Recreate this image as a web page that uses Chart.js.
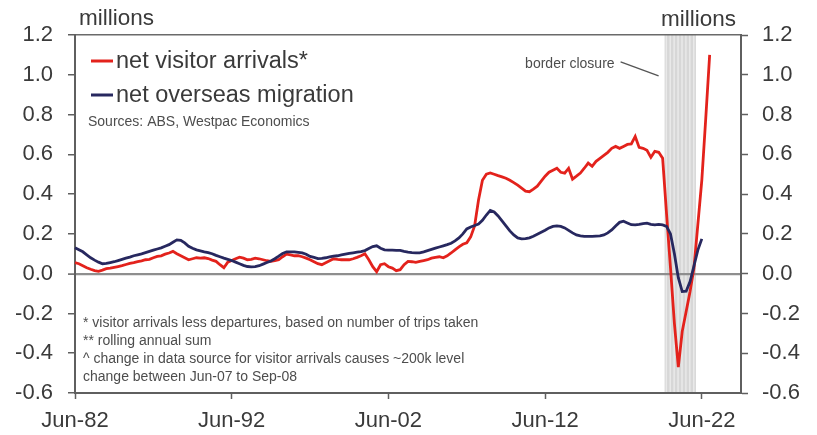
<!DOCTYPE html>
<html>
<head>
<meta charset="utf-8">
<script src="https://cdn.jsdelivr.net/npm/chart.js@4"></script>
<style>
  html, body { margin: 0; padding: 0; background: #ffffff; }
  #wrap { width: 817px; height: 435px; position: relative; }
</style>
</head>
<body>
<div id="wrap"><canvas id="chart" width="817" height="435"></canvas></div>
<script>
// Quarterly categories, Jun-82 through Dec-24
const quarterNames = ['Mar', 'Jun', 'Sep', 'Dec'];
const quarters = [];
for (let y = 1982, q = 1; quarters.length < 171; ) {
  quarters.push(quarterNames[q] + '-' + String(y % 100).padStart(2, '0'));
  q++;
  if (q === 4) { q = 0; y++; }
}

// Labelled x-axis ticks
const xTickLabels = ['Jun-82', 'Jun-92', 'Jun-02', 'Jun-12', 'Jun-22'];

// Period shaded as the border closure
const borderClosure = ['Mar-20', 'Dec-21'];

// Net visitor arrivals*, rolling annual sum (millions), from Jun-82
const visitorArrivals = [
  0.055, 0.05, 0.04, 0.03, 0.022, 0.015, 0.012, 0.018, 0.025, 0.028,
  0.032, 0.036, 0.04, 0.046, 0.052, 0.055, 0.06, 0.064, 0.07, 0.072,
  0.08, 0.087, 0.09, 0.098, 0.104, 0.112, 0.1, 0.09, 0.08, 0.07,
  0.075, 0.08, 0.078, 0.08, 0.076, 0.068, 0.062, 0.045, 0.03, 0.058,
  0.066, 0.075, 0.083, 0.078, 0.07, 0.072, 0.078, 0.075, 0.07, 0.065,
  0.062, 0.066, 0.07, 0.085, 0.098, 0.095, 0.09, 0.09, 0.085, 0.078,
  0.07, 0.06, 0.05, 0.045, 0.055, 0.065, 0.075, 0.072, 0.07, 0.07,
  0.07, 0.075, 0.082, 0.09, 0.1, 0.07, 0.035, 0.01, 0.045, 0.05,
  0.035, 0.028, 0.015, 0.02, 0.045, 0.062, 0.06, 0.057, 0.062, 0.066,
  0.07, 0.078, 0.082, 0.085, 0.08, 0.09, 0.104, 0.12, 0.135, 0.148,
  0.155, 0.185, 0.24, 0.37, 0.47, 0.5, 0.506, 0.5, 0.493, 0.487,
  0.48, 0.47, 0.458, 0.445, 0.43, 0.415, 0.412, 0.425, 0.44, 0.465,
  0.49, 0.51, 0.52, 0.53, 0.51, 0.505, 0.53, 0.475, 0.49, 0.506,
  0.53, 0.556, 0.54, 0.565, 0.58, 0.595, 0.61, 0.63, 0.64, 0.63,
  0.64, 0.65, 0.652, 0.69, 0.635, 0.63, 0.62, 0.585, 0.615, 0.61,
  0.58, 0.3, 0.03, -0.25, -0.47, -0.29, -0.19, -0.09, 0.03, 0.25,
  0.47, 0.78, 1.10
];

// Net overseas migration (millions), from Jun-82
const overseasMigration = [
  0.13, 0.12, 0.11, 0.095, 0.08, 0.068, 0.058, 0.05, 0.052, 0.056,
  0.06, 0.066, 0.072, 0.078, 0.083, 0.09, 0.095, 0.1, 0.106, 0.112,
  0.118, 0.124, 0.13, 0.138, 0.146, 0.158, 0.17, 0.168, 0.155, 0.138,
  0.128, 0.12, 0.115, 0.11, 0.106, 0.1, 0.092, 0.085, 0.078, 0.072,
  0.066, 0.058, 0.05, 0.042, 0.036, 0.034, 0.035, 0.04, 0.048, 0.056,
  0.064, 0.075, 0.088, 0.102, 0.11, 0.11, 0.11, 0.107, 0.104, 0.098,
  0.087, 0.082, 0.076, 0.077, 0.08, 0.084, 0.088, 0.09, 0.094, 0.098,
  0.102, 0.105, 0.108, 0.111, 0.116, 0.126, 0.136, 0.14, 0.128, 0.12,
  0.118, 0.118, 0.117, 0.117, 0.112, 0.108, 0.106, 0.105, 0.105, 0.11,
  0.116, 0.122, 0.128, 0.134, 0.14, 0.146, 0.153, 0.165, 0.18, 0.2,
  0.225, 0.235, 0.242, 0.25, 0.268, 0.295, 0.318, 0.31, 0.29, 0.265,
  0.24, 0.215, 0.195, 0.18, 0.175, 0.176, 0.18, 0.188, 0.198, 0.208,
  0.218, 0.23, 0.238, 0.24, 0.238, 0.23, 0.218, 0.205, 0.195, 0.19,
  0.187, 0.187, 0.188, 0.189, 0.19, 0.195, 0.205, 0.22, 0.24, 0.258,
  0.264, 0.255, 0.246, 0.245, 0.248, 0.252, 0.254, 0.248, 0.245, 0.248,
  0.245, 0.238, 0.2, 0.1, -0.02, -0.09, -0.088, -0.04, 0.04, 0.12,
  0.175
];

// Footnotes under the lines
const footnotes = [
  '* visitor arrivals less departures, based on number of trips taken',
  '** rolling annual sum',
  '^ change in data source for visitor arrivals causes ~200k level',
  'change between Jun-07 to Sep-08'
];

const RED = '#e3221c';
const NAVY = '#27285f';
const AXIS = '#5f5f5f';
const TEXT = '#3a3a3a';
const SMALL = '#4d4d4d';
const FONT = '"Liberation Sans", Arial, sans-serif';

// Grey striped band behind the lines for the border closure
const closureBand = {
  id: 'closureBand',
  beforeDraw(chart) {
    const x = chart.scales.x, a = chart.chartArea, ctx = chart.ctx;
    const i0 = quarters.indexOf(borderClosure[0]);
    const i1 = quarters.indexOf(borderClosure[1]);
    const left = x.getPixelForValue(i0 - 0.5);
    const right = x.getPixelForValue(i1 + 0.5);
    ctx.save();
    ctx.fillStyle = '#d7d7d7';
    ctx.fillRect(left, a.top, right - left, a.bottom - a.top);
    ctx.fillStyle = '#e9e9e9';
    for (let i = i0; i <= i1; i++) {
      const c = x.getPixelForValue(i);
      ctx.fillRect(c - 1, a.top, 1.5, a.bottom - a.top);
    }
    ctx.restore();
  }
};

// Unit captions, legend, source, annotation and footnotes
const chartText = {
  id: 'chartText',
  afterDraw(chart) {
    const ctx = chart.ctx, a = chart.chartArea, x = chart.scales.x, y = chart.scales.y;
    ctx.save();
    ctx.textBaseline = 'middle';
    ctx.fillStyle = TEXT;
    ctx.font = '22.5px ' + FONT;
    ctx.textAlign = 'left';
    ctx.fillText('millions', a.left + 4, 19);
    ctx.textAlign = 'right';
    ctx.fillText('millions', a.right - 5, 20);

    // legend
    const rows = [
      { ds: chart.data.datasets[1], y: 61 },
      { ds: chart.data.datasets[0], y: 95 }
    ];
    ctx.textAlign = 'left';
    ctx.font = '23.5px ' + FONT;
    rows.forEach(r => {
      ctx.strokeStyle = r.ds.borderColor;
      ctx.lineWidth = 3;
      ctx.beginPath();
      ctx.moveTo(a.left + 16, r.y);
      ctx.lineTo(a.left + 38, r.y);
      ctx.stroke();
      ctx.fillStyle = TEXT;
      ctx.fillText(r.ds.label, a.left + 41, r.y + 1);
    });

    ctx.font = '14px ' + FONT;
    ctx.fillStyle = SMALL;
    ctx.fillText('Sources: ABS, Westpac Economics', a.left + 13, 122);

    // border closure note
    const bandLeft = x.getPixelForValue(quarters.indexOf(borderClosure[0]) - 0.5);
    ctx.textAlign = 'right';
    ctx.fillText('border closure', bandLeft - 50, 64);
    ctx.strokeStyle = '#555555';
    ctx.lineWidth = 1.3;
    ctx.beginPath();
    ctx.moveTo(bandLeft - 44, y.getPixelForValue(1.065));
    ctx.lineTo(bandLeft - 6, y.getPixelForValue(0.995));
    ctx.stroke();

    // footnotes
    ctx.textAlign = 'left';
    footnotes.forEach((t, i) => {
      ctx.fillText(t, a.left + 8, 323 + i * 18);
    });
    ctx.restore();
  }
};

const tickFont = { family: FONT, size: 22 };

new Chart(document.getElementById('chart'), {
  type: 'line',
  data: {
    labels: quarters,
    datasets: [
      {
        label: 'net overseas migration',
        data: overseasMigration,
        borderColor: NAVY,
        borderWidth: 2.8,
        pointRadius: 0,
        tension: 0,
        order: 0
      },
      {
        label: 'net visitor arrivals*',
        data: visitorArrivals,
        borderColor: RED,
        borderWidth: 2.8,
        pointRadius: 0,
        tension: 0,
        order: 1
      }
    ]
  },
  options: {
    responsive: false,
    animation: false,
    events: [],
    layout: { padding: { top: 35, left: 0, right: 0, bottom: 0 } },
    plugins: { legend: { display: false }, tooltip: { enabled: false } },
    scales: {
      x: {
        type: 'category',
        offset: false,
        afterBuildTicks(scale) {
          scale.ticks = scale.ticks.filter(t => xTickLabels.includes(quarters[t.value]));
        },
        afterFit(scale) { scale.height = 42; },
        ticks: {
          autoSkip: false, maxRotation: 0, minRotation: 0,
          color: TEXT, font: tickFont, padding: 9
        },
        grid: { drawOnChartArea: false, drawTicks: true, tickLength: 6, tickColor: AXIS, tickWidth: 1.5 },
        border: { display: true, color: AXIS, width: 2 }
      },
      y: {
        position: 'left',
        min: -0.6, max: 1.2,
        afterFit(scale) { scale.width = 75; },
        ticks: {
          stepSize: 0.2, color: TEXT, font: tickFont, padding: 15,
          callback: v => v.toFixed(1)
        },
        grid: {
          drawOnChartArea: true, drawTicks: true, tickLength: 7,
          tickColor: AXIS, tickWidth: 1.5,
          color: c => (Math.abs(c.tick.value) < 1e-9 ? '#8e8e8e' : (Math.abs(c.tick.value - 1.2) < 1e-9 ? '#6a6a6a' : 'rgba(0,0,0,0)')),
          lineWidth: c => (Math.abs(c.tick.value) < 1e-9 ? 2.2 : 1.5)
        },
        border: { display: true, color: AXIS, width: 2 }
      },
      y2: {
        position: 'right',
        min: -0.6, max: 1.2,
        afterFit(scale) { scale.width = 76; },
        ticks: {
          stepSize: 0.2, color: TEXT, font: tickFont, padding: 14,
          callback: v => v.toFixed(1)
        },
        grid: { drawOnChartArea: false, drawTicks: true, tickLength: 7, tickColor: AXIS, tickWidth: 1.5 },
        border: { display: true, color: AXIS, width: 2 }
      }
    }
  },
  plugins: [closureBand, chartText]
});
</script>
</body>
</html>
